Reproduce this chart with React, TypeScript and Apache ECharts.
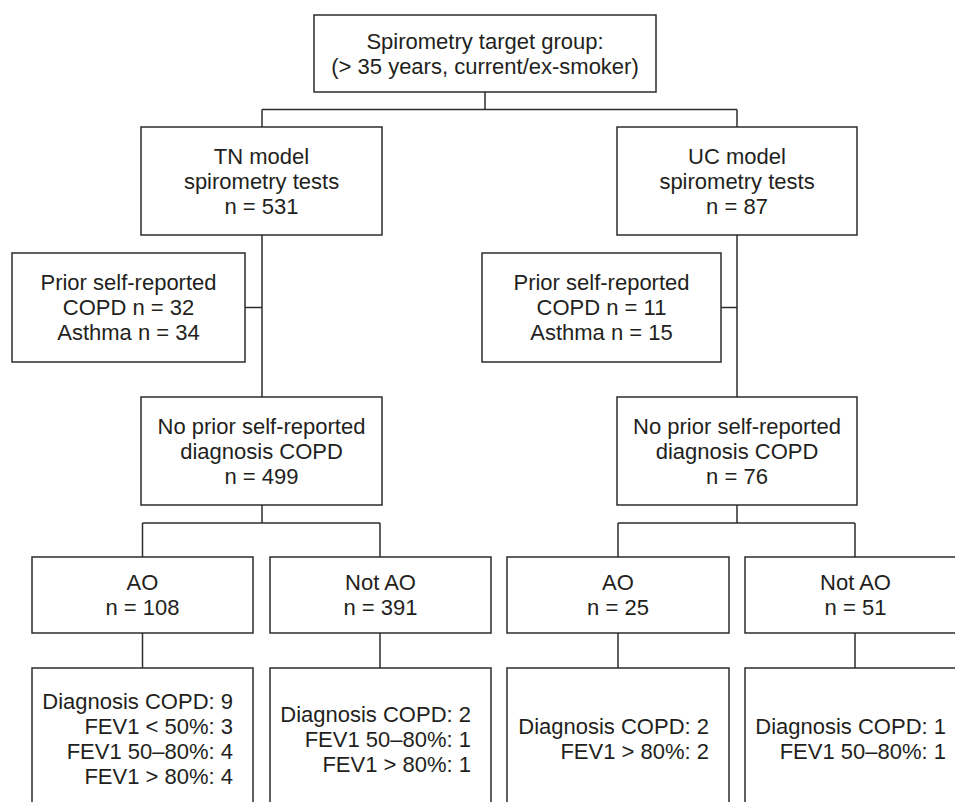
import React, { useEffect, useRef } from "react";
import * as echarts from "echarts";

// ---- data ----
const rootLabel = ["Spirometry target group:", "(> 35 years, current/ex-smoker)"];
const modelNames = ["TN", "UC"];
const modelTests = [531, 87];
const priorCOPD = [32, 11];
const priorAsthma = [34, 15];
const noPriorCounts = [499, 76];
const aoCounts = [108, 25];
const notAoCounts = [391, 51];
const aoResults = [
  ["Diagnosis COPD: 9", "FEV1 < 50%: 3", "FEV1 50\u201380%: 4", "FEV1 > 80%: 4"],
  ["Diagnosis COPD: 2", "FEV1 > 80%: 2"],
];
const notAoResults = [
  ["Diagnosis COPD: 2", "FEV1 50\u201380%: 1", "FEV1 > 80%: 1"],
  ["Diagnosis COPD: 1", "FEV1 50\u201380%: 1"],
];

// ---- layout ----
const ROWS = {
  root: { top: 15, h: 77 },
  model: { top: 127, h: 108 },
  prior: { top: 253, h: 109 },
  noPrior: { top: 397, h: 108 },
  ao: { top: 557, h: 76 },
  result: { top: 668, h: 142 },
};
const ROOT_X = [314, 656];
const MODEL_X = [[141, 382], [617, 857]];
const PRIOR_X = [[12, 245], [482, 721]];
const AO_X = [[32, 253], [507, 729]];
const NOTAO_X = [[270, 491], [745, 966]];
const TRUNK_X = [262, 737];
const SPLIT2_Y = 523;
const RESULT_PAD = 20;

const STROKE = "#2e2c2d";
const TEXT = "#231f20";
const FONT = "'Liberation Sans', Arial, Helvetica, sans-serif";
const FS = 22;
const LH = 25;

function box(x0: number, x1: number, row: { top: number; h: number }) {
  return {
    type: "rect",
    shape: { x: x0, y: row.top, width: x1 - x0, height: row.h },
    style: { fill: "#fff", stroke: STROKE, lineWidth: 1.5 },
    z: 2,
  };
}
function label(x: number, y: number, lines: string[], align = "center") {
  return {
    type: "text",
    x,
    y,
    z: 3,
    style: {
      text: lines.join("\n"),
      fontSize: FS,
      fontFamily: FONT,
      fill: TEXT,
      align,
      verticalAlign: "middle",
      lineHeight: LH,
    },
  };
}
function seg(x1: number, y1: number, x2: number, y2: number) {
  return {
    type: "line",
    shape: { x1, y1, x2, y2 },
    style: { stroke: STROKE, lineWidth: 1.5 },
    z: 1,
  };
}
const bottom = (r: { top: number; h: number }) => r.top + r.h;
const midY = (r: { top: number; h: number }) => r.top + r.h / 2;
const midX = (p: number[]) => (p[0] + p[1]) / 2;

function buildGraphic() {
  const els: any[] = [];
  // root
  els.push(box(ROOT_X[0], ROOT_X[1], ROWS.root));
  els.push(label(midX(ROOT_X), midY(ROWS.root), rootLabel));
  const rootMid = midX(ROOT_X);
  const splitY = (bottom(ROWS.root) + ROWS.model.top) / 2;
  els.push(seg(rootMid, bottom(ROWS.root), rootMid, splitY));
  els.push(seg(TRUNK_X[0], splitY, TRUNK_X[1], splitY));

  for (let i = 0; i < 2; i++) {
    const tx = TRUNK_X[i];
    els.push(seg(tx, splitY, tx, ROWS.model.top));
    // model
    els.push(box(MODEL_X[i][0], MODEL_X[i][1], ROWS.model));
    els.push(
      label(midX(MODEL_X[i]), midY(ROWS.model), [
        `${modelNames[i]} model`,
        "spirometry tests",
        `n = ${modelTests[i]}`,
      ])
    );
    // trunk
    els.push(seg(tx, bottom(ROWS.model), tx, ROWS.noPrior.top));
    // prior
    els.push(box(PRIOR_X[i][0], PRIOR_X[i][1], ROWS.prior));
    els.push(
      label(midX(PRIOR_X[i]), midY(ROWS.prior), [
        "Prior self-reported",
        `COPD n = ${priorCOPD[i]}`,
        `Asthma n = ${priorAsthma[i]}`,
      ])
    );
    els.push(seg(PRIOR_X[i][1], midY(ROWS.prior), tx, midY(ROWS.prior)));
    // no prior
    els.push(box(MODEL_X[i][0], MODEL_X[i][1], ROWS.noPrior));
    els.push(
      label(midX(MODEL_X[i]), midY(ROWS.noPrior), [
        "No prior self-reported",
        "diagnosis COPD",
        `n = ${noPriorCounts[i]}`,
      ])
    );
    const sy = SPLIT2_Y;
    const ax = midX(AO_X[i]);
    const nx = midX(NOTAO_X[i]) - 0.5;
    els.push(seg(tx, bottom(ROWS.noPrior), tx, sy));
    els.push(seg(ax, sy, nx, sy));
    els.push(seg(ax, sy, ax, ROWS.ao.top));
    els.push(seg(nx, sy, nx, ROWS.ao.top));
    // AO / Not AO
    els.push(box(AO_X[i][0], AO_X[i][1], ROWS.ao));
    els.push(label(midX(AO_X[i]), midY(ROWS.ao), ["AO", `n = ${aoCounts[i]}`]));
    els.push(box(NOTAO_X[i][0], NOTAO_X[i][1], ROWS.ao));
    els.push(label(midX(NOTAO_X[i]), midY(ROWS.ao), ["Not AO", `n = ${notAoCounts[i]}`]));
    els.push(seg(ax, bottom(ROWS.ao), ax, ROWS.result.top));
    els.push(seg(nx, bottom(ROWS.ao), nx, ROWS.result.top));
    // results
    els.push(box(AO_X[i][0], AO_X[i][1], ROWS.result));
    els.push(label(AO_X[i][1] - RESULT_PAD, midY(ROWS.result), aoResults[i], "right"));
    els.push(box(NOTAO_X[i][0], NOTAO_X[i][1], ROWS.result));
    els.push(label(NOTAO_X[i][1] - RESULT_PAD, midY(ROWS.result), notAoResults[i], "right"));
  }
  return els;
}

export default function App() {
  const ref = useRef<HTMLDivElement>(null);
  useEffect(() => {
    if (!ref.current) return;
    const chart = echarts.init(ref.current, undefined, { renderer: "svg" });
    chart.setOption({
      animation: false,
      backgroundColor: "#ffffff",
      graphic: { elements: buildGraphic() },
    });
    return () => chart.dispose();
  }, []);
  return (
    <div
      ref={ref}
      style={{ position: "absolute", left: 0, top: 0, width: 955, height: 802, background: "#fff" }}
    />
  );
}
